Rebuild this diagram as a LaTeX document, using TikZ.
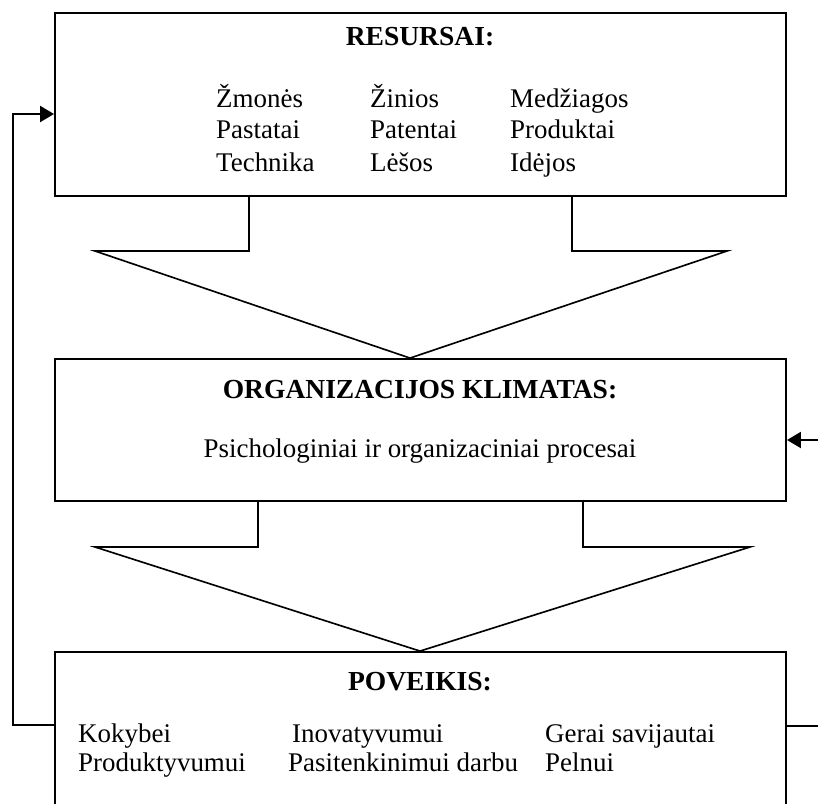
\documentclass[tikz,border=0pt]{standalone}
\usepackage{fontspec}
\setmainfont{Liberation Serif}
\usepackage{tikz}
\usetikzlibrary{arrows.meta}

\tikzset{
  box/.style={draw, line width=1.6pt, minimum width=21.93cm, inner sep=0pt},
  lbl/.style={anchor=base west, inner sep=0pt, font=\fontsize{23}{27}\selectfont},
  ttl/.style={anchor=base, inner sep=0pt, font=\fontsize{23.5}{27}\selectfont\bfseries},
  fb/.style={line width=1.8pt, -{Triangle[length=0.42cm,width=0.48cm]}}
}

\begin{document}
\begin{tikzpicture}[x=0.03cm,y=-0.03cm]
\clip (0,0) rectangle (818,803);
% three boxes
\node[box, minimum height=5.49cm] (res) at (420.5,104.5) {};
\node[box, minimum height=4.26cm] (klim) at (420.5,430) {};
\node[box, minimum height=5.40cm] (pov) at (420.5,742) {};

\node[ttl] (resT) at (420,45) {RESURSAI:};
\node[lbl] (r11) at (216,107) {Žmonės};
\node[lbl] (r12) at (370,107) {Žinios};
\node[lbl] (r13) at (510,107) {Medžiagos};
\node[lbl] (r21) at (216,138) {Pastatai};
\node[lbl] (r22) at (370,138) {Patentai};
\node[lbl] (r23) at (510,138) {Produktai};
\node[lbl] (r31) at (216,171) {Technika};
\node[lbl] (r32) at (370,171) {Lėšos};
\node[lbl] (r33) at (510,171) {Idėjos};

\node[ttl] (klimT) at (420,398) {ORGANIZACIJOS KLIMATAS:};
\node[anchor=base, inner sep=0pt, font=\fontsize{23}{27}\selectfont] (klimP) at (420,457) {Psichologiniai ir organizaciniai procesai};

\node[ttl] (povT) at (420,690) {POVEIKIS:};
\node[lbl] (p11) at (78,742) {Kokybei};
\node[lbl] (p12) at (292,742) {Inovatyvumui};
\node[lbl] (p13) at (545,742) {Gerai savijautai};
\node[lbl] (p21) at (78,771) {Produktyvumui};
\node[lbl] (p22) at (288,771) {Pasitenkinimui darbu};
\node[lbl] (p23) at (545,771) {Pelnui};

% hollow arrows between boxes
\draw[line width=1.4pt, line join=miter] (249,0 |- res.south) -- (249,251) -- (95,251)
  -- (410,0 |- klim.north) -- (727,251) -- (572,251) -- (572,0 |- res.south);
\draw[line width=1.4pt, line join=miter] (258,0 |- klim.south) -- (258,547) -- (95,547)
  -- (420,0 |- pov.north) -- (750,547) -- (583,547) -- (583,0 |- klim.south);

% feedback lines
\coordinate (lft) at (13,0);
\coordinate (rgt) at (818,0);
\draw[fb, {Triangle[length=0.42cm,width=0.48cm]}-] (res.west |- 0,114) -- (lft |- 0,114)
  -- (lft |- 0,725) -- (pov.west |- 0,725);
\draw[fb] (rgt |- 0,440) -- (klim.east |- 0,440);
\draw[line width=1.8pt] (pov.east |- 0,726) -- (rgt |- 0,726);
\end{tikzpicture}
\end{document}
